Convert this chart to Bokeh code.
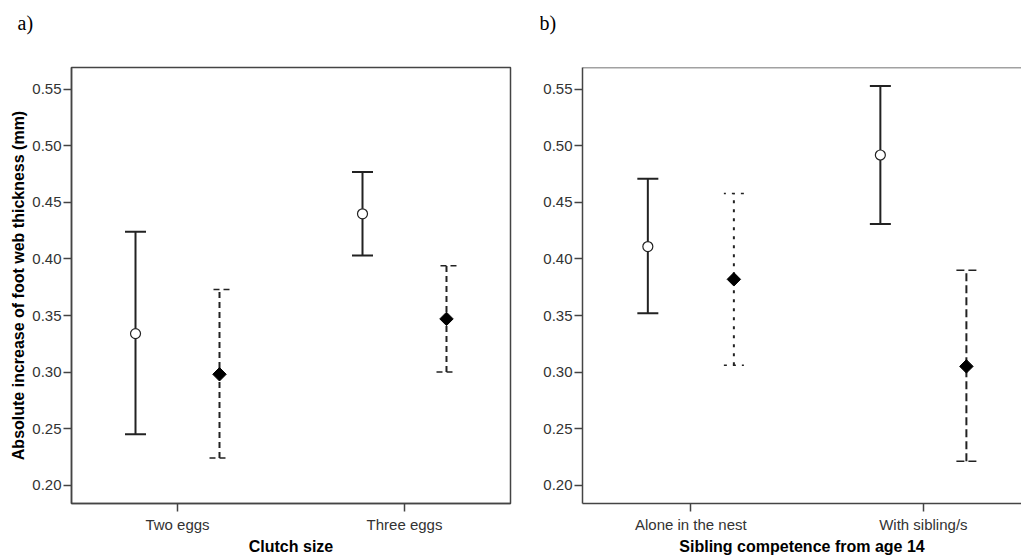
from bokeh.plotting import figure
from bokeh.models import (ColumnDataSource, Whisker, TeeHead, FixedTicker, Title, Span,
                          NumeralTickFormatter)
from bokeh.layouts import row
from bokeh.embed import file_html
from bokeh.resources import INLINE
import math

# ---------------- data ----------------
clutch_categories = ["Two eggs", "Three eggs"]
clutch_g1_mean = [0.334, 0.440]
clutch_g1_lower = [0.245, 0.403]
clutch_g1_upper = [0.424, 0.477]
clutch_g2_mean = [0.298, 0.347]
clutch_g2_lower = [0.224, 0.300]
clutch_g2_upper = [0.373, 0.394]

sibling_categories = ["Alone in the nest", "With sibling/s"]
sib_g1_mean = [0.411, 0.492]
sib_g1_lower = [0.352, 0.431]
sib_g1_upper = [0.471, 0.553]
sib_g2_mean = [0.382, 0.305]
sib_g2_lower = [0.306, 0.221]
sib_g2_upper = [0.458, 0.390]

y_ticks = [0.20, 0.25, 0.30, 0.35, 0.40, 0.45, 0.50, 0.55]

FONT = "Liberation Sans"
SERIF = "Liberation Serif"
OFFSET = 0.185
Y_RANGE = (0.1837, 0.5694)


def make_panel(cats, g1, g2, g2_dashes, xr, width, border_left, border_right,
               xlabel, ylabel, tag, tag_offset, outline=True):
    p = figure(width=width, height=557, x_range=xr, y_range=Y_RANGE,
               output_backend="svg", toolbar_location=None,
               min_border_left=border_left, min_border_right=border_right,
               min_border_top=67, min_border_bottom=20)
    p.grid.visible = False
    p.background_fill_color = "white"
    p.border_fill_color = "white"
    if outline:
        p.outline_line_color = "#444444"
        p.outline_line_width = 1.5
    else:
        p.outline_line_color = None
        p.add_layout(Span(location=Y_RANGE[1], dimension="width",
                          line_color="#444444", line_width=1.5))

    # spacer between frame and panel tag, then the tag ("a)" / "b)")
    p.add_layout(Title(text=" ", text_font_size="2px", standoff=30), "above")
    p.add_layout(Title(text=tag, align="left", offset=tag_offset, standoff=0,
                       text_font=SERIF, text_font_size="20px", text_font_style="normal",
                       text_color="black"), "above")

    idx = list(range(len(cats)))
    # y axis
    p.yaxis.ticker = FixedTicker(ticks=y_ticks)
    p.yaxis.formatter = NumeralTickFormatter(format="0.00")
    p.yaxis.major_tick_out = 8
    p.yaxis.major_tick_in = 0
    p.yaxis.minor_tick_line_color = None
    p.yaxis.major_label_standoff = 2
    p.yaxis.major_label_text_font = FONT
    p.yaxis.major_label_text_font_size = "15px"
    p.yaxis.major_label_text_color = "#333333"
    p.yaxis.axis_line_color = "#444444"
    p.yaxis.axis_line_width = 1.5
    p.yaxis.major_tick_line_color = "#444444"
    p.yaxis.major_tick_line_width = 1.5
    p.yaxis.axis_label = ylabel
    p.yaxis.axis_label_text_font = FONT
    p.yaxis.axis_label_text_font_style = "bold"
    p.yaxis.axis_label_text_font_size = "16px"
    p.yaxis.axis_label_text_color = "black"
    p.yaxis.axis_label_standoff = 2
    # x axis
    p.xaxis.ticker = FixedTicker(ticks=idx)
    p.xaxis.major_label_overrides = {i: c for i, c in zip(idx, cats)}
    p.xaxis.major_tick_out = 8
    p.xaxis.major_tick_in = 0
    p.xaxis.minor_tick_line_color = None
    p.xaxis.major_label_standoff = 4
    p.xaxis.major_label_text_font = FONT
    p.xaxis.major_label_text_font_size = "15px"
    p.xaxis.major_label_text_color = "#333333"
    p.xaxis.axis_line_color = "#444444"
    p.xaxis.axis_line_width = 1.5
    p.xaxis.major_tick_line_color = "#444444"
    p.xaxis.major_tick_line_width = 1.5
    p.xaxis.axis_label = xlabel
    p.xaxis.axis_label_text_font = FONT
    p.xaxis.axis_label_text_font_style = "bold"
    p.xaxis.axis_label_text_font_size = "16px"
    p.xaxis.axis_label_text_color = "black"
    p.xaxis.axis_label_standoff = 2

    mean1, lo1, hi1 = g1
    mean2, lo2, hi2 = g2
    x1 = [i - OFFSET for i in idx]
    x2 = [i + OFFSET for i in idx]

    s1 = ColumnDataSource(dict(x=x1, m=mean1, lo=lo1, hi=hi1))
    p.add_layout(Whisker(source=s1, base="x", lower="lo", upper="hi", dimension="height",
                         line_color="#222222", line_width=2,
                         upper_head=TeeHead(size=21, line_color="#222222", line_width=2),
                         lower_head=TeeHead(size=21, line_color="#222222", line_width=2)))
    p.scatter("x", "m", source=s1, marker="circle", size=10, fill_color="white",
              line_color="#222222", line_width=1.2)

    for i in idx:
        s2 = ColumnDataSource(dict(x=[x2[i]], m=[mean2[i]], lo=[lo2[i]], hi=[hi2[i]]))
        d = g2_dashes[i]
        p.add_layout(Whisker(source=s2, base="x", lower="lo", upper="hi", dimension="height",
                             line_color="#222222", line_width=2, line_dash=d,
                             upper_head=TeeHead(size=20, line_color="#222222", line_width=1.5,
                                                line_dash=d),
                             lower_head=TeeHead(size=20, line_color="#222222", line_width=1.5,
                                                line_dash=d)))
        p.scatter("x", "m", source=s2, marker="square", angle=math.pi / 4, size=9.5,
                  fill_color="black", line_color="black")
    return p


p1 = make_panel(clutch_categories,
                (clutch_g1_mean, clutch_g1_lower, clutch_g1_upper),
                (clutch_g2_mean, clutch_g2_lower, clutch_g2_upper),
                ["6 4", "6 4"], (-0.467, 1.467), 540, 71, 30,
                "Clutch size", "Absolute increase of foot web thickness (mm)", "a)", -54)

p2 = make_panel(sibling_categories,
                (sib_g1_mean, sib_g1_lower, sib_g1_upper),
                (sib_g2_mean, sib_g2_lower, sib_g2_upper),
                ["3 6", "8 4"], (-0.466, 1.422), 481, 38, 0,
                "Sibling competence from age 14", "", "b)", -43, outline=False)
p2.yaxis.axis_label = None

layout = row(p1, p2, spacing=0)
open("out.html", "w").write(file_html(layout, INLINE))
